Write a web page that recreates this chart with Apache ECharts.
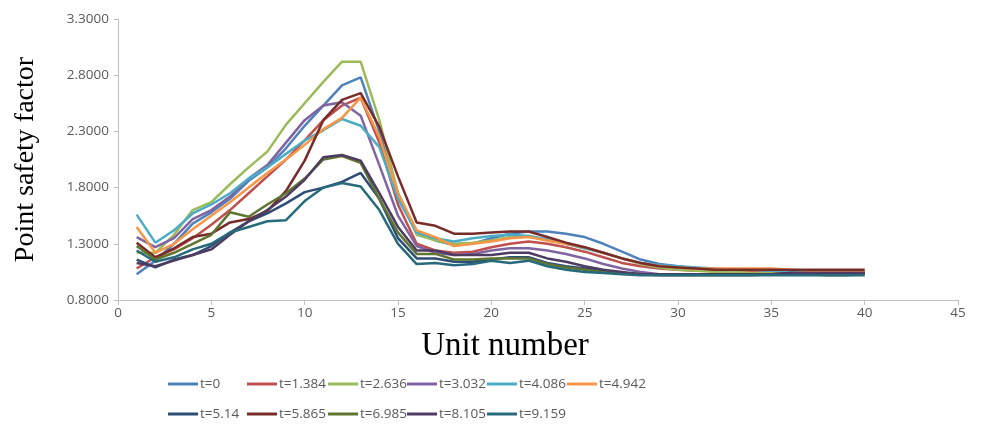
<!DOCTYPE html>
<html>
<head>
<meta charset="utf-8">
<script src="https://cdn.jsdelivr.net/npm/echarts@6/dist/echarts.min.js"></script>
<style>
html,body{margin:0;padding:0;background:#fff;}
#chart{width:981px;height:427px;}
</style>
</head>
<body>
<div id="chart"></div>
<script>
const units = [1,2,3,4,5,6,7,8,9,10,11,12,13,14,15,16,17,18,19,20,21,22,23,24,25,26,27,28,29,30,31,32,33,34,35,36,37,38,39,40];
const seriesNames = ['t=0','t=1.384','t=2.636','t=3.032','t=4.086','t=4.942','t=5.14','t=5.865','t=6.985','t=8.105','t=9.159'];
const seriesColors = ['#4F81BD','#C0504D','#9BBB59','#8064A2','#4BACC6','#F79646','#2C4D75','#772C2A','#5F7530','#4D3B62','#276A7C'];

const t0     = [1.03,1.15,1.30,1.48,1.58,1.70,1.86,1.98,2.15,2.35,2.53,2.71,2.78,2.30,1.75,1.40,1.33,1.29,1.30,1.35,1.39,1.41,1.41,1.39,1.36,1.30,1.23,1.16,1.12,1.10,1.08,1.07,1.06,1.06,1.06,1.05,1.05,1.05,1.05,1.05];
const t1384  = [1.08,1.18,1.25,1.35,1.47,1.60,1.75,1.90,2.05,2.22,2.40,2.53,2.60,2.20,1.65,1.30,1.24,1.22,1.23,1.27,1.30,1.32,1.30,1.27,1.23,1.18,1.13,1.10,1.08,1.07,1.06,1.06,1.06,1.05,1.05,1.05,1.05,1.05,1.05,1.05];
const t2636  = [1.22,1.22,1.38,1.60,1.67,1.83,1.98,2.12,2.36,2.55,2.74,2.92,2.92,2.40,1.75,1.38,1.33,1.30,1.31,1.33,1.36,1.37,1.33,1.30,1.26,1.22,1.17,1.12,1.09,1.07,1.06,1.05,1.05,1.04,1.04,1.04,1.03,1.03,1.03,1.03];
const t3032  = [1.36,1.27,1.35,1.52,1.60,1.72,1.88,2.00,2.20,2.40,2.53,2.56,2.44,2.00,1.55,1.28,1.22,1.20,1.21,1.24,1.26,1.26,1.24,1.21,1.17,1.12,1.08,1.05,1.03,1.03,1.03,1.03,1.03,1.03,1.03,1.03,1.04,1.04,1.04,1.04];
const t4086  = [1.56,1.31,1.42,1.57,1.65,1.75,1.88,1.98,2.10,2.22,2.31,2.41,2.35,2.16,1.70,1.40,1.35,1.32,1.35,1.37,1.38,1.37,1.34,1.30,1.26,1.22,1.17,1.13,1.11,1.10,1.09,1.08,1.07,1.07,1.06,1.06,1.05,1.05,1.05,1.05];
const t4942  = [1.45,1.22,1.30,1.43,1.55,1.67,1.80,1.93,2.05,2.18,2.32,2.42,2.60,2.25,1.75,1.42,1.36,1.28,1.30,1.32,1.35,1.36,1.33,1.30,1.27,1.22,1.17,1.13,1.10,1.09,1.08,1.08,1.08,1.08,1.08,1.07,1.06,1.06,1.06,1.06];
const t514   = [1.16,1.09,1.16,1.20,1.28,1.40,1.50,1.57,1.66,1.76,1.80,1.85,1.93,1.70,1.35,1.17,1.17,1.14,1.14,1.16,1.18,1.18,1.13,1.10,1.08,1.06,1.04,1.03,1.03,1.03,1.03,1.03,1.03,1.03,1.03,1.04,1.04,1.04,1.04,1.04];
const t5865  = [1.31,1.18,1.26,1.36,1.39,1.49,1.52,1.59,1.77,2.04,2.40,2.58,2.64,2.34,1.90,1.49,1.46,1.39,1.39,1.40,1.41,1.41,1.36,1.31,1.27,1.22,1.17,1.13,1.10,1.09,1.08,1.07,1.07,1.07,1.07,1.07,1.07,1.07,1.07,1.07];
const t6985  = [1.28,1.16,1.22,1.30,1.38,1.58,1.54,1.65,1.75,1.88,2.05,2.08,2.02,1.70,1.40,1.21,1.21,1.16,1.16,1.17,1.17,1.17,1.12,1.09,1.07,1.05,1.04,1.03,1.02,1.02,1.02,1.02,1.02,1.02,1.03,1.03,1.03,1.02,1.02,1.03];
const t8105  = [1.13,1.10,1.15,1.20,1.25,1.38,1.50,1.60,1.72,1.87,2.07,2.09,2.04,1.75,1.45,1.24,1.24,1.20,1.20,1.20,1.22,1.22,1.17,1.14,1.10,1.07,1.05,1.03,1.03,1.03,1.03,1.03,1.03,1.03,1.03,1.04,1.04,1.04,1.04,1.04];
const t9159  = [1.24,1.14,1.18,1.25,1.30,1.40,1.45,1.50,1.51,1.68,1.80,1.84,1.81,1.60,1.30,1.12,1.13,1.11,1.12,1.15,1.13,1.15,1.10,1.07,1.05,1.04,1.03,1.02,1.02,1.02,1.02,1.02,1.02,1.02,1.02,1.02,1.02,1.02,1.02,1.02];

const seriesValues = [t0,t1384,t2636,t3032,t4086,t4942,t514,t5865,t6985,t8105,t9159];

const yMin = 0.8, yMax = 3.3, yStep = 0.5;
const xMin = 0, xMax = 45, xStep = 5;

const chart = echarts.init(document.getElementById('chart'));

const legendCols = [168, 247, 328, 407, 487, 567];
const legendRows = [377, 407];
const legends = seriesNames.map((name, i) => ({
  data: [name],
  left: legendCols[i % 6],
  top: legendRows[Math.floor(i / 6)],
  icon: 'rect',
  itemWidth: 30,
  itemHeight: 3,
  itemGap: 0,
  selectedMode: false,
  padding: 0,
  textStyle: {color: '#595959', fontSize: 13.5, fontFamily: 'Open Sans', padding: [0,0,0,-3]}
}));

chart.setOption({
  animation: false,
  backgroundColor: '#fff',
  grid: {left: 118, right: 23, top: 19, bottom: 127, containLabel: false},
  legend: legends,
  xAxis: {
    type: 'value', min: xMin, max: xMax, interval: xStep,
    name: 'Unit number', nameLocation: 'middle', nameGap: 30,
    nameTextStyle: {fontFamily: 'Liberation Serif', fontSize: 33, color: '#000', padding: [0, 66, 0, 0]},
    axisLine: {show: true, lineStyle: {color: '#BFBFBF', width: 1}},
    axisTick: {show: true, length: 5, lineStyle: {color: '#BFBFBF'}},
    axisLabel: {color: '#595959', fontSize: 13.5, fontFamily: 'Open Sans', margin: 6},
    splitLine: {show: false}
  },
  yAxis: {
    type: 'value', min: yMin, max: yMax, interval: yStep,
    name: 'Point safety factor', nameLocation: 'middle', nameGap: 78, nameRotate: 90,
    nameTextStyle: {fontFamily: 'Liberation Serif', fontSize: 28, color: '#000'},
    axisLine: {show: true, lineStyle: {color: '#BFBFBF', width: 1}},
    axisTick: {show: true, length: 4, lineStyle: {color: '#BFBFBF'}},
    axisLabel: {color: '#595959', fontSize: 13.5, fontFamily: 'Open Sans', margin: 9,
      formatter: v => v.toFixed(4)},
    splitLine: {show: false}
  },
  series: seriesNames.map((name, i) => ({
    name: name,
    type: 'line',
    data: units.map((u, k) => [u, seriesValues[i][k]]),
    showSymbol: false,
    symbol: 'none',
    lineStyle: {width: 2.5, color: seriesColors[i]},
    itemStyle: {color: seriesColors[i]}
  }))
});
</script>
</body>
</html>
